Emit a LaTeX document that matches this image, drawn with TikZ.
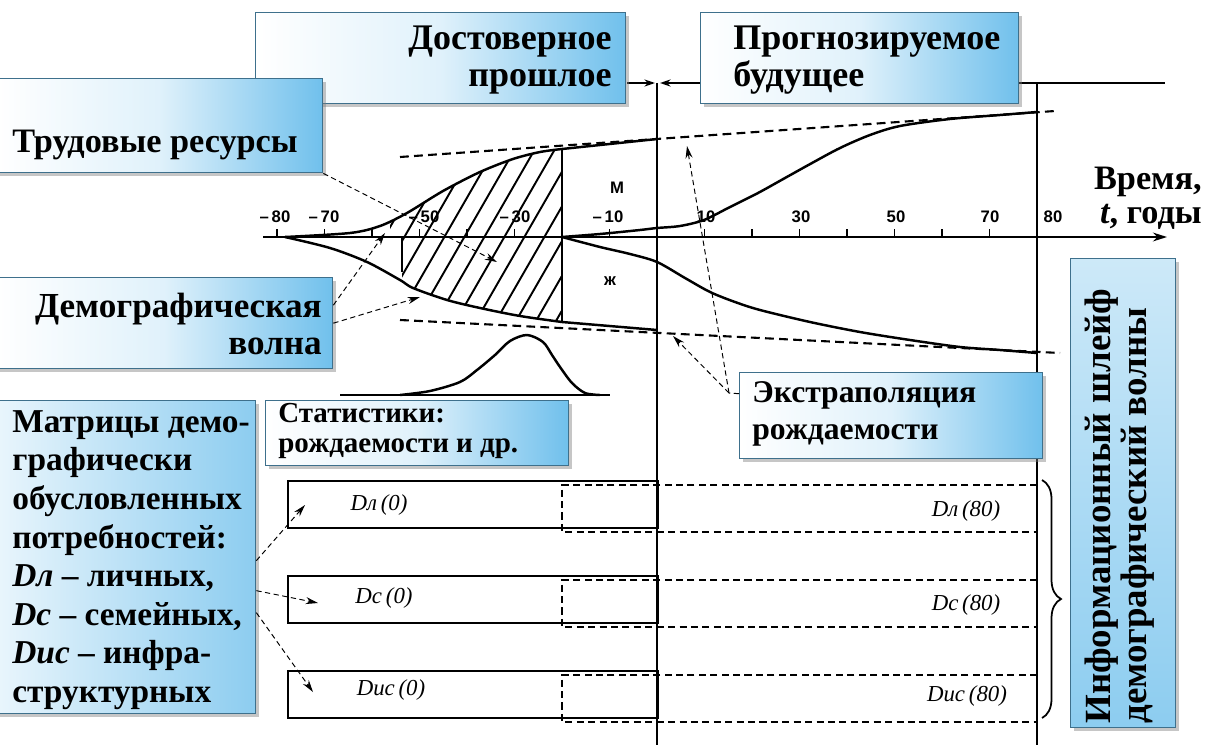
\documentclass[tikz,border=0pt]{standalone}
\usepackage{fontspec}
\setmainfont{Liberation Serif}
\newfontfamily\labsans{Liberation Sans}
\usetikzlibrary{arrows.meta,shadows,decorations.pathreplacing}
\definecolor{boxblue}{RGB}{112,192,236}
\definecolor{boxline}{RGB}{62,112,140}
\begin{document}
\begin{tikzpicture}[x=0.02cm,y=-0.02cm,
  bluebox/.style={draw=boxline, line width=0.8pt, left color=white, right color=boxblue, middle color=boxblue!22!white,
    drop shadow={shadow xshift=2pt,shadow yshift=-2pt,opacity=0.45}, inner sep=0pt, anchor=north west},
  infobox/.style={draw=boxline, line width=0.8pt, top color=boxblue!35!white, bottom color=boxblue!80!white,
    drop shadow={shadow xshift=2pt,shadow yshift=-2pt,opacity=0.45}, inner sep=0pt, anchor=north west},
  matrbox/.style={draw=boxline, line width=0.8pt, left color=boxblue!15!white, right color=boxblue!80!white,
    drop shadow={shadow xshift=2pt,shadow yshift=-2pt,opacity=0.45}, inner sep=0pt, anchor=north west},
  conn/.style={densely dashed, line width=0.55pt, -{Stealth[length=7pt,width=4pt]}},
  topar/.style={line width=1pt, -{Stealth[length=6pt,width=4pt]}},
  curve/.style={line width=1.4pt, line join=round},
  heavy/.style={line width=1.2pt},
  extrap/.style={line width=1.2pt, dash pattern=on 5pt off 3pt},
  rowbox/.style={draw, line width=1.4pt, inner sep=0pt, anchor=north west},
  dashrow/.style={line width=1.1pt, dash pattern=on 4pt off 2.5pt},
  tick/.style={line width=0.9pt},
  num/.style={font=\labsans\bfseries\fontsize{9.5}{11}\selectfont, inner sep=0pt},
  dlab/.style={font=\itshape\fontsize{13}{15}\selectfont, inner sep=0pt}
]
\useasboundingbox (0,0) rectangle (1212,750);

% ---------- extrapolation (dashed) lines ----------
\draw[extrap] (400,157) -- (1055,111);
\draw[extrap] (400,320) -- (1060,353);

% ---------- hatching ----------
\begin{scope}
\clip (390,237) -- plot[smooth] coordinates {(390,221) (407,213) (443,191) (480,172) (513,159) (540,152) (562,149)}
  -- (562,322) -- plot[smooth] coordinates {(520,316) (480,308) (447,300) (413,288) (402,283)} -- (402,237) -- cycle;
\foreach \i in {-4,...,12} \draw[line width=1.1pt] ({385+20*\i},340) -- ++(121,-210);
\end{scope}

% ---------- wave curves ----------
\draw[curve] plot[smooth] coordinates {(285,237) (350,233) (380,226) (407,213) (443,191) (480,172) (513,159) (540,152) (562,149)} -- (657,139);
\draw[curve] plot[smooth] coordinates {(285,237) (330,248) (367,262) (400,280) (413,288) (447,300) (480,308) (520,316) (562,322)} -- (657,330);
\draw[curve] plot[smooth] coordinates {(562,237) (600,234) (640,230) (657,228) (680,226) (704,220) (730,207) (758,193) (785,178) (812,163) (840,148) (870,135) (900,126) (950,119) (1000,115) (1037,112)};
\draw[curve] plot[smooth] coordinates {(562,237) (600,247) (630,254) (657,262) (685,278) (710,292) (735,302) (760,310) (810,322) (860,332) (910,340) (960,347) (1000,350) (1037,353)};
\draw[heavy] (562,149) -- (562,322);
\draw[heavy] (402,237) -- (402,272);

% ---------- bell curve ----------
\draw[line width=1.2pt] (340,395) -- (610,395);
\draw[curve] plot[smooth] coordinates {(400,395) (430,391) (460,382) (477,370) (495,355) (510,341) (527,335) (543,342) (552,355) (560,367) (572,383) (585,393) (600,395)};

% ---------- time axis ----------
\draw[heavy, -{Stealth[length=8pt,width=5pt]}] (263,237) -- (1167,237);
\foreach \t in {-80,-70,-60,-50,-40,-30,-20,-10,10,20,30,40,50,60,70}
  \draw[tick] ({657+4.75*\t},229) -- ({657+4.75*\t},237);
\node[num] (nm80) at (275,217) {–\,80};
\node[num] (nm70) at (324,217) {–\,70};
\node[num] (nm50) at (424,217) {–\,50};
\node[num] (nm30) at (515,217) {–\,30};
\node[num] (nm10) at (608,217) {–\,10};
\node[num] (np10) at (706,217) {10};
\node[num] (np30) at (801,217) {30};
\node[num] (np50) at (896,217) {50};
\node[num] (np70) at (990,217) {70};
\node[num] (np80) at (1053,217) {80};
\node[num] (mlab) at (617,188) {М};
\node[num] (zlab) at (610,281) {ж};
\node[font=\bfseries\fontsize{19.5}{19.5}\selectfont, anchor=east, align=right, inner sep=0pt] (timeT) at (1202,198) {Время,\\\textit{t}, годы};

% ---------- matrix rows ----------
\node[rowbox, minimum width=7.4cm, minimum height=0.94cm] (rowL) at (287,480) {};
\node[rowbox, minimum width=7.4cm, minimum height=0.94cm] (rowC) at (287,575) {};
\node[rowbox, minimum width=7.4cm, minimum height=0.94cm] (rowI) at (287,670) {};
\draw[dashrow] (1037,485) -- (562,485) -- (562,532) -- (1037,532);
\draw[dashrow] (1037,580) -- (562,580) -- (562,627) -- (1037,627);
\draw[dashrow] (1037,675) -- (562,675) -- (562,722) -- (1037,722);
\node[dlab] (dl0) at (379,505) {Dл\,(0)};
\node[dlab] (dc0) at (384,598) {Dс\,(0)};
\node[dlab] (di0) at (391,690) {Dис\,(0)};
\node[dlab] (dl80) at (966,511) {Dл\,(80)};
\node[dlab] (dc80) at (966,605) {Dс\,(80)};
\node[dlab] (di80) at (967,696) {Dис\,(80)};
\draw[line width=1pt, decorate, decoration={brace, amplitude=0.38cm}] (1042,480) -- (1042,718);

% ---------- main vertical lines and top marker ----------
\coordinate (nowTop) at (657,83);
\coordinate (pastR) at (627,83);
\coordinate (futL) at (700,83);
\coordinate (horTop) at (1165,83);
\coordinate (futR) at (1018,83);
\draw[heavy] (nowTop) -- (657,745);
\draw[heavy] (1037,83) -- (1037,745);
\draw[topar] (pastR) -- ([xshift=-0.04cm]nowTop);
\draw[topar] (futL) -- ([xshift=0.06cm]nowTop);
\draw[heavy] (futR) -- (horTop);

% ---------- boxes ----------
\node[bluebox, minimum width=7.4cm, minimum height=1.82cm] (past) at (255,12) {};
\node[bluebox, minimum width=6.36cm, minimum height=1.82cm] (future) at (700,12) {};
\node[bluebox, minimum width=6.54cm, minimum height=1.88cm] (trud) at (-5,78) {};
\node[bluebox, minimum width=6.74cm, minimum height=1.82cm] (demo) at (-5,277) {};
\node[bluebox, minimum width=6.06cm, minimum height=1.3cm] (stat) at (265,400) {};
\node[matrbox, minimum width=5.2cm, minimum height=6.26cm] (matr) at (-5,400) {};
\node[bluebox, minimum width=6.06cm, minimum height=1.72cm] (extra) at (739,372) {};
\node[infobox, minimum width=2.1cm, minimum height=9.38cm] (info) at (1070,258) {};

\node[font=\bfseries\fontsize{20.5}{21.5}\selectfont, anchor=east, align=right, inner sep=0pt] (pastT) at (612,60) {Достоверное\\прошлое};
\node[font=\bfseries\fontsize{20.5}{21.5}\selectfont, anchor=west, align=left, inner sep=0pt] (futT) at (733,60) {Прогнозируемое\\будущее};
\node[font=\bfseries\fontsize{19.5}{21}\selectfont, anchor=west, inner sep=0pt] (trudT) at (12,145) {Трудовые ресурсы};
\node[font=\bfseries\fontsize{20}{21.5}\selectfont, anchor=east, align=right, inner sep=0pt] (demoT) at (322,324) {Демографическая\\волна};
\node[font=\bfseries\fontsize{16.5}{17.5}\selectfont, anchor=west, align=left, inner sep=0pt] (statT) at (278,431) {Статистики:\\рождаемости и др.};
\node[font=\bfseries\fontsize{19}{22}\selectfont, anchor=west, align=left, inner sep=0pt] (matrT) at (12,560)
  {Матрицы демо-\\графически\\обусловленных\\потребностей:\\\textit{Dл} – личных,\\\textit{Dс} – семейных,\\\textit{Dис} – инфра-\\структурных};
\node[font=\bfseries\fontsize{18}{21}\selectfont, anchor=west, align=left, inner sep=0pt] (extraT) at (752,414) {Экстраполяция\\рождаемости};
\node[font=\bfseries\fontsize{21}{20.5}\selectfont, rotate=90, anchor=west, align=left, inner sep=0pt] (infoT) at (1120,724)
  {Информационный шлейф\\демографический волны};

% ---------- connectors ----------
\coordinate (tTrud) at (497,262);
\coordinate (tD1) at (385,233);
\coordinate (tD2) at (420,297);
\coordinate (ex0) at (729,393);
\coordinate (tE1) at (687,146);
\coordinate (tE2) at (673,336);
\coordinate (tM1) at (305,505);
\coordinate (tM2) at (318,603);
\coordinate (tM3) at (313,692);
\draw[conn] (trud.south east) -- (tTrud);
\draw[conn] ([yshift=0.36cm]demo.east) -- (tD1);
\draw[conn] (demo.east) -- (tD2);
\draw[densely dashed, line width=0.55pt] ([yshift=0.44cm]extra.west) -- (ex0);
\draw[conn] (ex0) -- (tE1);
\draw[conn] (ex0) -- (tE2);
\draw[conn] ([yshift=-0.07cm]matr.east) -- (tM1);
\draw[conn] ([yshift=-0.67cm]matr.east) -- (tM2);
\draw[conn] ([yshift=-1.11cm]matr.east) -- (tM3);
\end{tikzpicture}
\end{document}
